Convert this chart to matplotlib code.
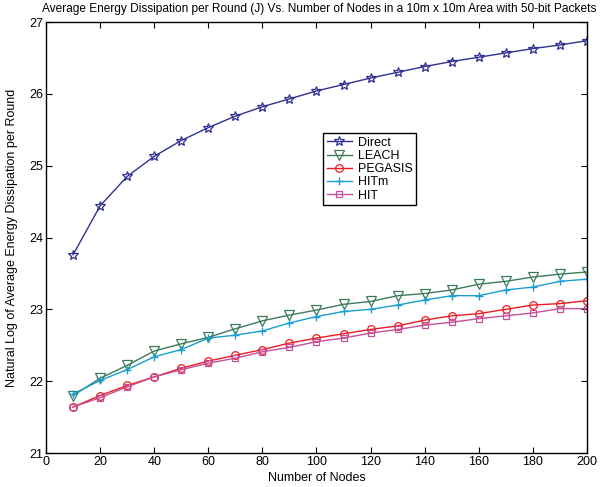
import numpy as np
import matplotlib.pyplot as plt

plt.rcParams['font.family'] = ['Liberation Sans', 'DejaVu Sans']

nodes = list(range(10, 201, 10))

direct = [23.76, 24.44, 24.85, 25.13, 25.35, 25.53, 25.69, 25.82, 25.93, 26.04,
          26.13, 26.22, 26.30, 26.38, 26.45, 26.51, 26.57, 26.63, 26.68, 26.74]
leach = [21.80, 22.04, 22.22, 22.42, 22.52, 22.61, 22.73, 22.84, 22.92, 22.99,
         23.07, 23.11, 23.19, 23.22, 23.27, 23.35, 23.39, 23.45, 23.49, 23.52]
pegasis = [21.64, 21.80, 21.94, 22.06, 22.18, 22.28, 22.36, 22.44, 22.53, 22.60,
           22.66, 22.72, 22.77, 22.85, 22.91, 22.94, 23.00, 23.06, 23.08, 23.12]
hitm = [21.82, 22.01, 22.16, 22.34, 22.44, 22.60, 22.64, 22.70, 22.81, 22.90,
        22.97, 23.00, 23.06, 23.13, 23.19, 23.19, 23.27, 23.31, 23.39, 23.42]
hit = [21.64, 21.77, 21.92, 22.06, 22.16, 22.25, 22.32, 22.41, 22.47, 22.55,
       22.60, 22.67, 22.72, 22.78, 22.82, 22.87, 22.91, 22.95, 23.01, 23.01]

fig = plt.figure(figsize=(6.11, 4.87), dpi=100)
ax = fig.add_axes([0.0753, 0.0698, 0.8854, 0.885])

ax.plot(nodes, direct, color='#2e3192', marker='*', ms=7.5, mfc='none', mew=0.9, lw=1, label='Direct')
ax.plot(nodes, leach, color='#3d7a5a', marker='v', ms=6.5, mfc='none', mew=0.9, lw=1, label='LEACH')
ax.plot(nodes, pegasis, color='#ed1c24', marker='o', ms=5.5, mfc='none', mew=0.9, lw=1, label='PEGASIS')
ax.plot(nodes, hitm, color='#1a9dcf', marker='+', ms=6, mew=1, lw=1, label='HITm')
ax.plot(nodes, hit, color='#c2509a', marker='s', ms=4.2, mfc='none', mew=0.9, lw=1, label='HIT')

ax.set_xlim(0, 200)
ax.set_ylim(21, 27)
ax.set_xticks(range(0, 201, 20))
ax.set_yticks(range(21, 28))
ax.tick_params(direction='in', top=True, right=True, labelsize=9, length=4, pad=2)
for s in ax.spines.values():
    s.set_linewidth(1)

ax.set_title('Average Energy Dissipation per Round (J) Vs. Number of Nodes in a 10m x 10m Area with 50-bit Packets',
             fontsize=8.6, pad=7, x=0.505)
ax.set_xlabel('Number of Nodes', fontsize=9, labelpad=3)
ax.set_ylabel('Natural Log of Average Energy Dissipation per Round', fontsize=9, labelpad=8)

leg = ax.legend(loc='upper left', bbox_to_anchor=(0.512, 0.7425), fontsize=9, fancybox=False,
                edgecolor='black', framealpha=1, borderpad=0.3, labelspacing=0.1,
                handlelength=2, handletextpad=0.5, borderaxespad=0)
leg.get_frame().set_linewidth(1)

fig.savefig('out.png', dpi=100)
